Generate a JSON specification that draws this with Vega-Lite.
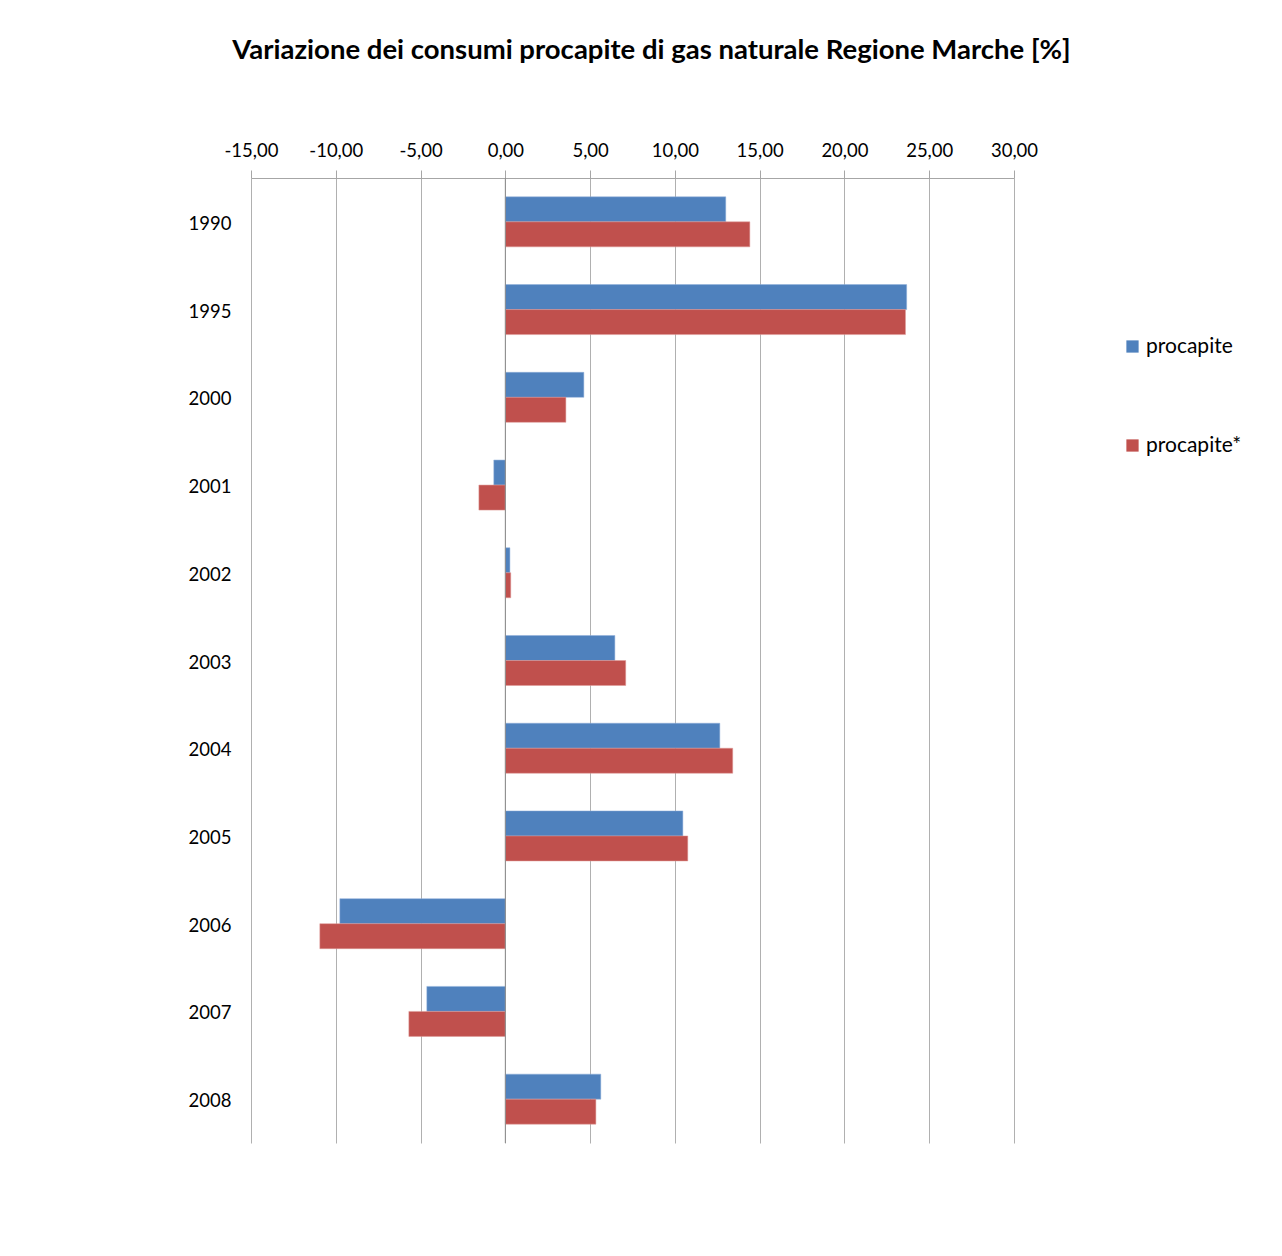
{
  "$schema": "https://vega.github.io/schema/vega-lite/v6.json",
  "autosize": {"type": "none"},
  "padding": {"left": 251, "top": 178, "right": 268, "bottom": 113},
  "width": 763,
  "height": 965,
  "background": "white",
  "config": {
    "font": "Lato",
    "view": {"stroke": null}
  },
  "title": {
    "text": "Variazione dei consumi procapite di gas naturale Regione Marche [%]",
    "fontSize": 27.5,
    "fontWeight": "bold",
    "font": "Lato",
    "color": "#000000",
    "anchor": "middle",
    "dx": 19,
    "offset": 77
  },
  "data": {
    "values": [
      {"anno": "1990", "serie": "procapite", "valore": 13.0},
      {"anno": "1990", "serie": "procapite*", "valore": 14.42},
      {"anno": "1995", "serie": "procapite", "valore": 23.67},
      {"anno": "1995", "serie": "procapite*", "valore": 23.6},
      {"anno": "2000", "serie": "procapite", "valore": 4.63},
      {"anno": "2000", "serie": "procapite*", "valore": 3.57},
      {"anno": "2001", "serie": "procapite", "valore": -0.68},
      {"anno": "2001", "serie": "procapite*", "valore": -1.56},
      {"anno": "2002", "serie": "procapite", "valore": 0.27},
      {"anno": "2002", "serie": "procapite*", "valore": 0.32},
      {"anno": "2003", "serie": "procapite", "valore": 6.46},
      {"anno": "2003", "serie": "procapite*", "valore": 7.1},
      {"anno": "2004", "serie": "procapite", "valore": 12.65},
      {"anno": "2004", "serie": "procapite*", "valore": 13.41},
      {"anno": "2005", "serie": "procapite", "valore": 10.47},
      {"anno": "2005", "serie": "procapite*", "valore": 10.76},
      {"anno": "2006", "serie": "procapite", "valore": -9.76},
      {"anno": "2006", "serie": "procapite*", "valore": -10.94},
      {"anno": "2007", "serie": "procapite", "valore": -4.63},
      {"anno": "2007", "serie": "procapite*", "valore": -5.69},
      {"anno": "2008", "serie": "procapite", "valore": 5.63},
      {"anno": "2008", "serie": "procapite*", "valore": 5.34}
    ]
  },
  "layer": [
    {
      "mark": {"type": "bar", "strokeWidth": 1, "strokeOpacity": 0.5},
      "encoding": {
        "y": {
          "field": "anno",
          "type": "ordinal",
          "sort": null,
          "scale": {"paddingInner": 0.43, "paddingOuter": 0.215},
          "axis": {
            "title": null,
            "domain": false,
            "ticks": false,
            "labelPadding": 20,
            "labelFontSize": 18.5,
            "labelColor": "#000000",
            "labelFont": "Lato",
            "labelOffset": 2
          }
        },
        "yOffset": {"field": "serie", "type": "nominal", "scale": {"paddingInner": 0, "paddingOuter": 0}},
        "x": {
          "field": "valore",
          "type": "quantitative",
          "scale": {"domain": [-15, 30], "nice": false},
          "axis": {
            "orient": "top",
            "title": null,
            "values": [-15, -10, -5, 0, 5, 10, 15, 20, 25, 30],
            "labelExpr": "replace(replace(format(datum.value, '.2f'), '.', ','), '−', '-')",
            "labelFlush": false,
            "labelOverlap": false,
            "labelFontSize": 18.5,
            "labelColor": "#000000",
            "labelFont": "Lato",
            "labelPadding": 10,
            "tickSize": 8,
            "tickColor": "#a6a6a6",
            "domainColor": "#a6a6a6",
            "grid": true,
            "gridColor": "#b0b0b0",
            "gridWidth": 1
          }
        },
        "color": {
          "field": "serie",
          "type": "nominal",
          "scale": {"domain": ["procapite", "procapite*"], "range": ["#4F81BD", "#C0504D"]},
          "legend": {
            "title": null,
            "orient": "none",
            "legendX": 871,
            "legendY": 158,
            "symbolType": "square",
            "symbolSize": 150,
            "symbolStrokeWidth": 0,
            "labelFontSize": 21,
            "labelFont": "Lato",
            "labelColor": "#000000",
            "rowPadding": 77,
            "labelOffset": 3
          }
        },
        "stroke": {
          "field": "serie",
          "type": "nominal",
          "scale": {"domain": ["procapite", "procapite*"], "range": ["#8fb0dc", "#e09a98"]},
          "legend": null
        }
      }
    },
    {
      "data": {"values": [{"v": 0}]},
      "mark": {"type": "rule", "color": "#8c8c8c", "strokeWidth": 1},
      "encoding": {"x": {"field": "v", "type": "quantitative"}}
    }
  ]
}
